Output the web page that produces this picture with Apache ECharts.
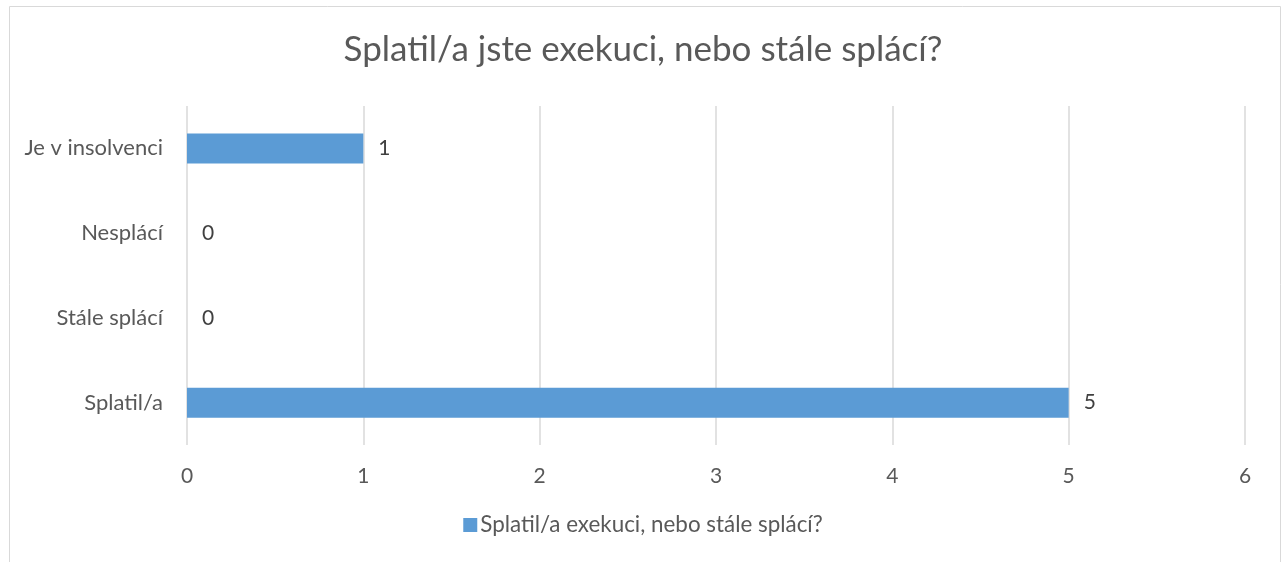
<!DOCTYPE html>
<html>
<head>
<meta charset="utf-8">
<script src="https://cdn.jsdelivr.net/npm/echarts@6/dist/echarts.min.js"></script>
<style>
html, body { margin: 0; padding: 0; background: #fff; }
#chart { width: 1286px; height: 562px; }
</style>
</head>
<body>
<div id="chart"></div>
<script>
var categories = ['Je v insolvenci', 'Nesplácí', 'Stále splácí', 'Splatil/a'];
var values = [1, 0, 0, 5];
var seriesName = 'Splatil/a exekuci, nebo stále splácí?';
var titleText = 'Splatil/a jste exekuci, nebo stále splácí?';

var font = 'Lato, "Open Sans", sans-serif';
var myChart = echarts.init(document.getElementById('chart'));

var option = {
    animation: false,
    textStyle: { fontFamily: font },
    graphic: [{
        type: 'rect',
        shape: { x: 9.5, y: 6.5, width: 1271, height: 600 },
        style: { fill: 'none', stroke: '#d9d9d9', lineWidth: 1 },
        silent: true
    }],
    title: {
        text: titleText,
        left: 'center',
        top: 27,
        textStyle: {
            fontFamily: font,
            fontSize: 35,
            fontWeight: 'normal',
            color: '#595959'
        }
    },
    legend: {
        data: [seriesName],
        bottom: 21,
        left: 'center',
        icon: 'rect',
        itemWidth: 14,
        itemHeight: 14,
        itemGap: 4,
        textStyle: {
            fontFamily: font,
            fontSize: 22.4,
            color: '#595959',
            padding: [0, 0, 0, -2]
        }
    },
    grid: {
        top: 106,
        bottom: 117,
        left: 187,
        right: 41
    },
    xAxis: {
        type: 'value',
        min: 0,
        max: 6,
        interval: 1,
        axisLine: { show: false },
        axisTick: { show: false },
        axisLabel: {
            fontFamily: font,
            fontSize: 21,
            color: '#595959',
            margin: 21
        },
        splitLine: {
            lineStyle: { color: '#d9d9d9', width: 1.5 }
        }
    },
    yAxis: {
        type: 'category',
        inverse: true,
        data: categories,
        axisLine: { show: false },
        axisTick: { show: false },
        axisLabel: {
            fontFamily: font,
            fontSize: 22,
            color: '#595959',
            margin: 24
        }
    },
    series: [{
        name: seriesName,
        type: 'bar',
        data: values,
        barWidth: 30,
        itemStyle: {
            color: '#5b9bd5'
        },
        label: {
            show: true,
            position: 'right',
            distance: 15,
            fontFamily: font,
            fontSize: 21,
            color: '#404040'
        }
    }]
};
myChart.setOption(option);

window.onresize = function () {
    myChart.resize();
};
</script>
</body>
</html>
